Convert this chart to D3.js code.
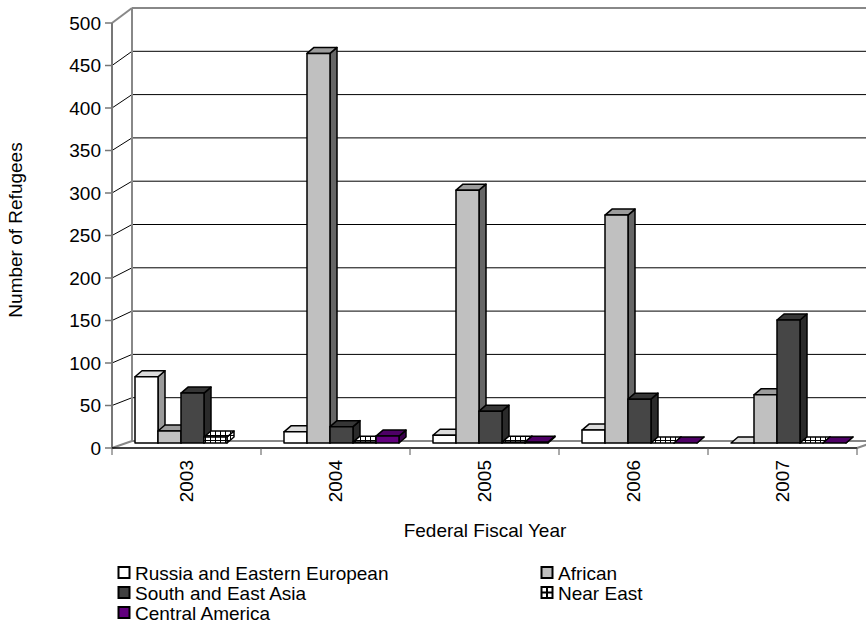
<!DOCTYPE html>
<html><head><meta charset="utf-8">
<script src="https://cdn.jsdelivr.net/npm/d3@7"></script>
<style>html,body{margin:0;padding:0;background:#fff;}svg{display:block;font-family:"Liberation Sans",Arial,sans-serif;}</style>
</head><body>
<svg id="c" width="866" height="628"></svg>
<script>
const years = ["2003","2004","2005","2006","2007"];
const seriesNames = ["Russia and Eastern European","African","South and East Asia","Near East","Central America"];
const russia = [77, 13, 9, 15, 0];
const african = [14, 453, 294, 265, 56];
const southEastAsia = [58, 19, 37, 51, 143];
const nearEast = [7, 1, 1, 0, 0];
const centralAmerica = [null, 8, 1, 0, 0];
const yTicks = [0,50,100,150,200,250,300,350,400,450,500];
const seriesValues = [russia, african, southEastAsia, nearEast, centralAmerica];

const svg = d3.select("#c");
const defs = svg.append("defs");
const pat = defs.append("pattern").attr("id","grid").attr("patternUnits","userSpaceOnUse").attr("width",5).attr("height",5);
pat.append("rect").attr("width",5).attr("height",5).attr("fill","#fff");
pat.append("path").attr("d","M0,0.5H5M0.5,0V5").attr("stroke","#000").attr("stroke-width",1);

const faces = [
  {front:"#ffffff", top:"#dcdcdc", side:"#9a9a9a"},
  {front:"#c0c0c0", top:"#9c9c9c", side:"#666666"},
  {front:"#464646", top:"#363636", side:"#2a2a2a"},
  {front:"url(#grid)", top:"url(#grid)", side:"url(#grid)"},
  {front:"#62007e", top:"#4e0066", side:"#3a004c"}
];

const yFront = d3.scaleLinear().domain([0,500]).range([448,23]);
const yBack = d3.scaleLinear().domain([0,500]).range([441,8]);
const yBar = d3.scaleLinear().domain([0,500]).range([443,13]);
const x = d3.scaleBand().domain(years).range([112,857]);
const inner = d3.scaleBand().domain(seriesNames).range([23,138]);
const backDX = 20, depthDX = 7, depthDY = -6;

// back wall gridlines
const g = svg.append("g");
yTicks.forEach(v => {
  if (v === 0 || v === 500) return;
  g.append("line").attr("x1",132).attr("x2",866).attr("y1",yBack(v)).attr("y2",yBack(v)).attr("stroke","#000").attr("stroke-width",1);
  g.append("line").attr("x1",112).attr("y1",yFront(v)).attr("x2",112+backDX).attr("y2",yBack(v)).attr("stroke","#000").attr("stroke-width",1);
});
// wall edges
g.append("line").attr("x1",132).attr("x2",866).attr("y1",yBack(500)).attr("y2",yBack(500)).attr("stroke","#888").attr("stroke-width",2);
g.append("line").attr("x1",132).attr("x2",866).attr("y1",yBack(0)).attr("y2",yBack(0)).attr("stroke","#888").attr("stroke-width",2);
g.append("line").attr("x1",132).attr("x2",132).attr("y1",yBack(0)).attr("y2",yBack(500)).attr("stroke","#888").attr("stroke-width",2);
g.append("line").attr("x1",112).attr("y1",yFront(500)).attr("x2",132).attr("y2",yBack(500)).attr("stroke","#888").attr("stroke-width",2);
g.append("line").attr("x1",112).attr("y1",yFront(0)).attr("x2",132).attr("y2",yBack(0)).attr("stroke","#888").attr("stroke-width",2);
g.append("line").attr("x1",857).attr("y1",yFront(0)).attr("x2",877).attr("y2",yBack(0)).attr("stroke","#888").attr("stroke-width",2);

// bars
const bars = svg.append("g");
years.forEach((yr, ci) => {
  seriesNames.forEach((s, si) => {
    const v = seriesValues[si][ci];
    if (v === null) return;
    const x0 = x(yr) + inner(s);
    const w = inner.bandwidth();
    const yb = yBar(0), yt = yBar(v);
    const f = faces[si];
    const sg = bars.append("g").attr("stroke","#000").attr("stroke-width",1.5).attr("stroke-linejoin","round");
    sg.append("polygon").attr("points",[[x0+w,yt],[x0+w+depthDX,yt+depthDY],[x0+w+depthDX,yb+depthDY],[x0+w,yb]].map(p=>p.join(",")).join(" ")).attr("fill",f.side);
    sg.append("polygon").attr("points",[[x0,yt],[x0+depthDX,yt+depthDY],[x0+w+depthDX,yt+depthDY],[x0+w,yt]].map(p=>p.join(",")).join(" ")).attr("fill",f.top);
    if (yb - yt > 0.5) sg.append("rect").attr("x",x0).attr("y",yt).attr("width",w).attr("height",yb-yt).attr("fill",f.front);
  });
});

// front y axis
const ax = svg.append("g");
ax.append("line").attr("x1",112).attr("x2",112).attr("y1",yFront(0)).attr("y2",yFront(500)).attr("stroke","#777").attr("stroke-width",2);
yTicks.forEach(v => {
  ax.append("line").attr("x1",105).attr("x2",112).attr("y1",yFront(v)).attr("y2",yFront(v)).attr("stroke","#777").attr("stroke-width",1.5);
  ax.append("text").attr("x",101).attr("y",yFront(v)).attr("dy","0.35em").attr("text-anchor","end").attr("font-size",19).text(v);
});
// x axis
ax.append("line").attr("x1",112).attr("x2",857).attr("y1",yFront(0)).attr("y2",yFront(0)).attr("stroke","#000").attr("stroke-width",1.5);
x.domain().forEach(yr => {
  ax.append("line").attr("x1",x(yr)).attr("x2",x(yr)).attr("y1",448).attr("y2",455).attr("stroke","#555").attr("stroke-width",1);
});
ax.append("line").attr("x1",857).attr("x2",857).attr("y1",448).attr("y2",455).attr("stroke","#555").attr("stroke-width",1);
years.forEach(yr => {
  const cx = x(yr) + x.bandwidth()/2;
  ax.append("text").attr("transform",`translate(${cx},460) rotate(-90)`).attr("dy","0.35em").attr("text-anchor","end").attr("font-size",19).text(yr);
});

// titles
svg.append("text").attr("transform","translate(15,230) rotate(-90)").attr("dy","0.35em").attr("text-anchor","middle").attr("font-size",19).text("Number of Refugees");
svg.append("text").attr("x",485).attr("y",530).attr("dy","0.35em").attr("text-anchor","middle").attr("font-size",19).text("Federal Fiscal Year");

// legend
const legPos = [[118,573],[541,573],[118,593],[541,593],[118,613]];
const legFill = ["#ffffff","#c0c0c0","#404040",null,"#62007e"];
seriesNames.forEach((s,i) => {
  const [lx,ly] = legPos[i];
  const lg = svg.append("g");
  lg.append("rect").attr("x",lx+0.5).attr("y",ly-6).attr("width",11).attr("height",11).attr("fill",legFill[i]||"#fff").attr("stroke","#000").attr("stroke-width",2);
  if (legFill[i] === null) {
    lg.append("path").attr("d",`M${lx+6},${ly-6}V${ly+5}M${lx+0.5},${ly-0.5}H${lx+11.5}`).attr("stroke","#000").attr("stroke-width",2);
  }
  lg.append("text").attr("x",lx+17).attr("y",ly).attr("dy","0.35em").attr("font-size",19).text(s);
});
</script>
</body></html>
